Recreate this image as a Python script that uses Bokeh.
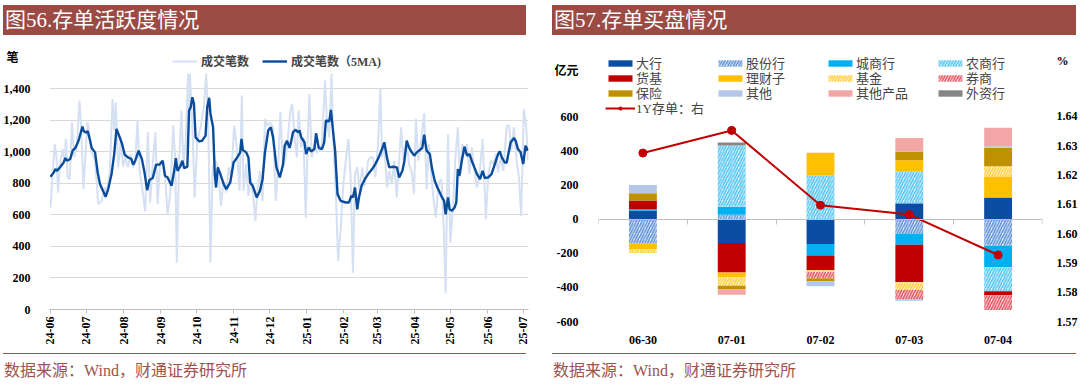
import math
import numpy as np
import pandas as pd
from bokeh.plotting import figure
from bokeh.layouts import row, column
from bokeh.models import (Range1d, LinearAxis, Legend, LegendItem, FixedTicker, Div,
                          NumeralTickFormatter, DatetimeTickFormatter, MonthsTicker)
from bokeh.embed import file_html
from bokeh.resources import INLINE

# ---------------- data: left chart (days since 2024-06-01) ----------------
raw_day = [0.0, 1.9, 3.6, 5.0, 6.3, 8.3, 10.2, 11.6, 12.9, 14.3, 16.0, 17.9, 19.8, 22.0, 24.2, 25.6,
           27.5, 28.9, 30.9, 32.5, 34.4, 37.2, 39.9, 42.7, 45.5, 46.8, 49.6, 51.8, 53.2, 54.5, 56.5,
           58.7, 60.6, 62.5, 64.7, 66.9, 68.9, 70.8, 72.7, 74.4, 76.3, 79.1, 81.3, 83.2, 85.4, 87.6,
           89.5, 91.5, 93.7, 95.6,
           97.8, 100.0, 102.5, 104.1, 105.5, 107.4, 109.4, 111.0, 112.9, 114.9, 115.7, 116.5, 118.5,
           120.4, 122.6, 125.3, 128.1, 130.0, 131.7, 133.6, 135.5, 137.7, 139.9, 142.4, 144.6, 146.8,
           148.8, 150.9, 153.4, 155.6, 157.9, 159.8, 161.2, 163.4, 165.3, 167.2, 169.4, 171.1, 173.0,
           174.9, 177.1, 179.1, 181.0, 183.2, 185.9, 188.1, 190.1, 192.0, 194.2,
           196.4, 198.3, 200.3, 201.9, 203.9, 205.8, 207.2, 209.4, 211.3, 213.2, 214.9, 216.2, 218.2,
           220.4, 222.3, 224.5, 226.7, 229.2, 230.8, 232.8, 234.7, 236.1, 238.3, 240.2, 242.4, 244.6,
           246.6, 248.8, 250.7, 252.6, 254.3, 256.2, 258.1, 260.3, 262.5, 265.3, 267.2, 269.4, 271.3,
           273.5, 275.5, 276.9, 278.8, 281.0, 282.9, 285.1, 287.0, 289.2, 291.2, 292.8, 294.8,
           297.5, 299.4, 301.7, 303.6, 305.2, 307.2, 309.9, 312.1, 314.1, 316.0, 318.2, 320.1, 321.8,
           324.3, 326.5, 328.4, 330.0, 332.0, 333.9, 336.1, 338.0, 340.2, 341.9, 343.8, 345.7, 347.9,
           349.9, 351.8, 354.0, 356.2, 358.1, 360.9, 363.6, 365.6, 367.8, 370.0, 371.9, 373.8, 376.0,
           378.2, 381.0, 382.9, 384.9, 387.0, 389.3, 391.2, 393.1, 395.3, 397.3, 398.8]
raw_val = [647, 880, 1050, 965, 742, 944, 1018, 944, 1082, 838, 827, 1188, 965, 1039, 1326, 1156,
           764, 944, 1188, 1114, 997, 944, 668, 689, 774, 732, 880, 1336, 1135, 1315, 902,
           1071, 906, 965, 902, 986, 902, 944, 1203, 880, 785, 622, 1124, 679, 923, 1124,
           668, 933, 944, 849,
           604, 732, 1167, 965, 297, 944, 1262, 923, 1061, 1496, 1250, 1496, 1156,
           711, 1071, 1156, 1283, 1496, 1199, 297, 902, 944, 902, 658, 817, 742,
           902, 838, 1167, 1029, 753, 1358, 753, 923, 721, 838, 711, 562, 774,
           880, 689, 1209, 1167, 1188, 1156, 689, 902, 1252, 902,
           965, 1092, 1262, 1305, 1082, 965, 1262, 1029, 1092, 583, 1092, 1368, 965,
           1050, 997, 1008, 1050, 1453, 1209, 1092, 1496, 1071, 732, 308, 520, 796,
           944, 1082, 838, 233, 859, 902, 753, 902, 785, 944, 965, 965, 838,
           1050, 1400, 965, 1039, 774, 880, 796, 944, 711, 944, 1156, 944,
           1071, 923, 870, 732, 1209, 944, 1092, 1245, 764, 1050, 838, 689, 583,
           806, 827, 520, 106, 1114, 424, 647, 944, 1156, 838, 1050, 986, 1050,
           859, 1029, 880, 774, 838, 1082, 573, 859, 944, 923, 986, 870, 965,
           880, 1167, 1167, 1008, 1156, 944, 838, 594, 1273, 1156, 944]

ma_day = [0.0, 2.8, 4.1, 5.5, 8.3, 11.0, 12.4, 13.8, 16.5, 18.5, 20.7, 23.4, 25.6, 26.7, 27.8, 29.5,
          31.1, 33.1, 34.4, 37.2, 39.4, 41.3, 44.1, 46.0, 48.2, 51.0, 53.2, 55.1, 57.0, 59.8, 62.0,
          64.7, 67.5, 69.1, 70.8, 73.6, 76.3, 78.5, 80.7, 82.6, 85.4, 88.2, 90.9, 93.7, 95.6,
          97.8, 101.1, 103.3, 104.7, 106.1, 108.3, 110.2, 111.6, 114.3, 115.7, 117.1, 118.5, 119.8,
          121.2, 124.0, 126.7, 129.5, 130.9, 132.5, 133.6, 135.8, 137.2, 138.3, 139.7, 141.9, 144.6,
          146.8, 150.1, 152.9, 155.6, 158.4, 159.5, 160.6, 163.4, 165.3, 166.7, 168.9, 172.2, 174.9,
          177.1, 179.1, 181.8, 184.0, 185.9, 188.7, 191.5, 194.2,
          195.6, 197.5, 199.7, 201.1, 202.5, 204.7, 206.6, 208.0, 209.4, 212.1, 213.5, 215.7, 217.6,
          220.4, 221.8, 224.0, 226.7, 228.6, 230.0, 232.8, 234.2, 235.5, 237.7, 239.7, 242.4, 246.6,
          249.3, 251.2, 252.6, 254.3, 256.2, 257.6, 259.8, 262.5, 265.3, 268.6, 271.3, 274.1, 276.9,
          278.8, 281.0, 282.9, 286.5, 289.3, 291.2, 293.9,
          295.6, 297.5, 299.4, 301.7, 303.9, 305.8, 308.5, 310.5, 312.1, 314.1, 316.8, 318.7, 320.9,
          323.1, 325.1, 327.0, 328.7, 330.0, 332.0, 333.3, 335.3, 337.5, 338.9, 340.2, 341.6, 343.5,
          345.7, 347.9, 349.9, 351.8, 354.0, 356.2, 358.7, 360.9, 362.8, 365.6, 368.3, 371.1, 373.8,
          375.2, 376.9, 379.3, 381.0, 382.1, 384.3, 387.1, 388.4, 390.4, 392.6, 394.8, 396.7, 398.6]
ma_val = [842, 870, 891, 880, 906, 933, 961, 944, 955, 1008, 1025, 1071, 1131, 1160, 1131, 1124,
          1131, 1071, 1025, 997, 870, 796, 749, 715, 764, 859, 986, 1146, 1109, 1050, 982,
          965, 955, 919, 944, 1008, 955, 870, 757, 821, 834, 919, 919, 944, 849,
          838, 785, 880, 961, 880, 906, 944, 897, 906, 1262, 1283, 1347, 1305,
          1092, 1067, 1071, 1103, 1283, 1343, 1241, 1156, 859, 774, 902, 859, 796,
          764, 806, 933, 961, 997, 1082, 1012, 997, 965, 806, 785, 711, 753,
          827, 997, 1135, 1156, 1092, 902, 838, 920,
          1039, 1071, 1025, 1071, 1124, 1141, 1124, 1135, 1092, 1061, 986, 1029, 1003,
          1018, 1118, 1025, 1018, 1061, 1199, 1194, 1266, 1167, 1008, 732, 689, 679,
          679, 721, 711, 774, 636, 711, 785, 827, 859, 891, 923, 965, 1018,
          1061, 965, 902, 906, 902, 838, 880,
          944, 1071, 1029, 997, 976, 997, 1012, 1025, 1109, 1008, 986, 891, 817,
          774, 742, 711, 689, 604, 711, 636, 626, 647, 679, 891, 849, 944,
          1033, 976, 986, 944, 902, 859, 827, 880, 834, 838, 859, 923, 986,
          1003, 965, 933, 933, 976, 1061, 1088, 1071, 1018, 997, 923, 1039, 1008]

left_yticks = [0, 200, 400, 600, 800, 1000, 1200, 1400]

# ---------------- data: right chart ----------------
dates_r = ["06-30", "07-01", "07-02", "07-03", "07-04"]
series_names = ["大行", "股份行", "城商行", "农商行", "货基", "理财子", "基金", "券商",
                "保险", "其他", "其他产品", "外资行"]
v_dahang = [49, -141, -146, 93, 126]
v_gufen = [-143, 25, 0, -84, -156]
v_chengshang = [8, 47, -68, -66, -127]
v_nongshang = [0, 358, 256, 187, -140]
v_huoji = [51, -172, -84, -220, -25]
v_licai = [-33, -29, 132, 65, 124]
v_jijin = [-23, -49, -10, -45, 59]
v_quanshang = [0, 0, -38, -53, -84]
v_baoxian = [43, -20, -18, 49, 108]
v_qita = [49, 0, -29, -10, 10]
v_qitachanpin = [0, -33, 0, 80, 108]
v_waizi = [0, 18, 0, 0, 0]
rate_1y = [1.6275, 1.6352, 1.6097, 1.6065, 1.5927]
right_yticks = [-600, -400, -200, 0, 200, 400, 600]
rate_ticks = [1.57, 1.58, 1.59, 1.60, 1.61, 1.62, 1.63, 1.64]

series_vals = [v_dahang, v_gufen, v_chengshang, v_nongshang, v_huoji, v_licai, v_jijin,
               v_quanshang, v_baoxian, v_qita, v_qitachanpin, v_waizi]
series_color = ["#0B4DA2", "#5C8FD6", "#00B0F0", "#4FC3F2", "#C00000", "#FFC000", "#FFCC33",
                "#E2505C", "#BF9000", "#B4C7E7", "#F2A6A6", "#858585"]
series_hatch = [False, True, False, True, False, False, True, True, False, False, False, False]

# ---------------- styles ----------------
BAR = "#9B4A44"
FOOT = "#A0524C"
MIX = "Liberation Serif, Noto Sans CJK SC"
LIGHT = "#D5E0F2"
DARK = "#0A4C9C"
GRID = "#D9D9D9"


def title_div(w, left, bar_w, text):
    html = ('<div style="margin:5px 0 0 %dpx;width:%dpx;height:30px;background:%s;color:white;'
            'font-family:Liberation Serif, Noto Sans CJK SC;font-size:21px;line-height:30px;'
            'padding-left:2px;box-sizing:border-box;white-space:nowrap;overflow:hidden">%s</div>'
            % (left, bar_w, BAR, text))
    return Div(text=html, width=w, height=35, margin=0)


def footer_div(w, left, bar_w):
    html = ('<div style="margin:3px 0 0 %dpx;width:%dpx;border-top:1.5px solid %s;'
            'color:%s;font-family:Liberation Serif, Noto Sans CJK SC;font-size:16px;'
            'line-height:19px;padding-top:7px;padding-left:1px;box-sizing:border-box;'
            'white-space:nowrap">数据来源：Wind，财通证券研究所</div>' % (left, bar_w, FOOT, FOOT))
    return Div(text=html, width=w, height=35, margin=0)


# ---------------- left chart ----------------
origin = pd.Timestamp("2024-06-01")
raw_dates = origin + pd.to_timedelta(raw_day, unit="D")
ma_dates = origin + pd.to_timedelta(ma_day, unit="D")

p1 = figure(width=551, height=315, x_axis_type="datetime",
            x_range=Range1d(origin - pd.Timedelta(hours=20), origin + pd.Timedelta(days=399.2)),
            y_range=Range1d(0, 1675), toolbar_location=None, output_backend="svg",
            min_border_left=44, min_border_right=23, min_border_top=10, min_border_bottom=41)
p1.outline_line_color = None
p1.background_fill_color = "white"
p1.border_fill_color = "white"
p1.xgrid.visible = False
p1.ygrid.ticker = FixedTicker(ticks=left_yticks)
p1.ygrid.grid_line_color = GRID
p1.ygrid.grid_line_width = 1

unit_tick_left = 1595
p1.yaxis.ticker = FixedTicker(ticks=left_yticks + [unit_tick_left])
p1.yaxis.formatter = NumeralTickFormatter(format="0,0")
p1.yaxis.major_label_overrides = {unit_tick_left: "笔\u2003"}
p1.yaxis.axis_line_color = None
p1.yaxis.major_tick_line_color = None
p1.yaxis.minor_tick_line_color = None
p1.yaxis.major_label_standoff = 13
p1.yaxis.major_label_text_font = MIX
p1.yaxis.major_label_text_font_style = "bold"
p1.yaxis.major_label_text_font_size = "12px"
p1.yaxis.major_label_text_color = "black"

p1.xaxis.ticker = MonthsTicker(months=list(range(12)))
p1.xaxis.formatter = DatetimeTickFormatter(months="%y-%m", days="%y-%m", years="%y-%m")
p1.xaxis.major_label_orientation = math.pi / 2
p1.xaxis.axis_line_color = "#BFBFBF"
p1.xaxis.major_tick_line_color = "#BFBFBF"
p1.xaxis.major_tick_out = 4
p1.xaxis.major_tick_in = 0
p1.xaxis.minor_tick_line_color = None
p1.xaxis.major_label_standoff = 3
p1.xaxis.major_label_text_font = "Liberation Serif"
p1.xaxis.major_label_text_font_style = "bold"
p1.xaxis.major_label_text_font_size = "12px"
p1.xaxis.major_label_text_color = "black"

r_raw = p1.line(raw_dates, raw_val, line_color=LIGHT, line_width=2)
r_ma = p1.line(ma_dates, ma_val, line_color=DARK, line_width=2.4)

leg1 = Legend(items=[LegendItem(label="成交笔数", renderers=[r_raw]),
                     LegendItem(label="成交笔数（5MA)", renderers=[r_ma])],
              orientation="horizontal", location=(123, 239), glyph_width=25, glyph_height=14,
              label_height=14, label_standoff=4, spacing=13, padding=0, margin=0,
              border_line_color=None, background_fill_alpha=0,
              label_text_font=MIX, label_text_font_style="bold", label_text_font_size="12px")
p1.add_layout(leg1)

# ---------------- right chart ----------------
xpos = np.arange(len(dates_r)) + 0.5
p2 = figure(width=529, height=315, x_range=Range1d(0, len(dates_r)), y_range=Range1d(-600, 987),
            toolbar_location=None, output_backend="svg",
            min_border_left=44, min_border_right=38, min_border_top=15, min_border_bottom=29)
p2.extra_y_ranges = {"rate": Range1d(1.57, 1.6625)}
p2.outline_line_color = None
p2.grid.visible = False
p2.background_fill_color = "white"
p2.border_fill_color = "white"

unit_tick_r_left = 866
unit_tick_r_right = 1.6588
p2.yaxis[0].ticker = FixedTicker(ticks=right_yticks + [unit_tick_r_left])
p2.yaxis[0].formatter = NumeralTickFormatter(format="0")
p2.yaxis[0].major_label_overrides = {unit_tick_r_left: "亿元"}
ax_r = LinearAxis(y_range_name="rate", ticker=FixedTicker(ticks=rate_ticks + [unit_tick_r_right]),
                  formatter=NumeralTickFormatter(format="0.00"),
                  major_label_overrides={unit_tick_r_right: "%"})
p2.add_layout(ax_r, "right")
for ax in [p2.yaxis[0], ax_r]:
    ax.axis_line_color = None
    ax.major_tick_line_color = None
    ax.minor_tick_line_color = None
    ax.major_label_text_font = MIX
    ax.major_label_text_font_style = "bold"
    ax.major_label_text_font_size = "12px"
    ax.major_label_text_color = "black"
p2.yaxis[0].major_label_standoff = 14
ax_r.major_label_standoff = 8

xa = p2.xaxis[0]
xa.ticker = FixedTicker(ticks=list(xpos))
xa.major_label_overrides = {float(x): d for x, d in zip(xpos, dates_r)}
xa.axis_line_color = None
xa.major_tick_line_color = None
xa.minor_tick_line_color = None
xa.major_label_standoff = 8
xa.major_label_text_font = "Liberation Serif"
xa.major_label_text_font_style = "bold"
xa.major_label_text_font_size = "12px"
xa.major_label_text_color = "black"

ax0 = LinearAxis(fixed_location=0, ticker=FixedTicker(ticks=list(range(len(dates_r) + 1))),
                 axis_line_color="#BFBFBF", major_tick_line_color="#BFBFBF",
                 major_tick_out=5, major_tick_in=0, minor_tick_line_color=None,
                 major_label_text_font_size="0px", major_label_text_alpha=0)
p2.add_layout(ax0, "below")

pos_cum = np.zeros(len(dates_r))
neg_cum = np.zeros(len(dates_r))
bar_renderers = []
for name, vals, col, hatch in zip(series_names, series_vals, series_color, series_hatch):
    v = np.array(vals, dtype=float)
    bottom = np.where(v >= 0, pos_cum, neg_cum)
    top = bottom + v
    pos_cum = np.where(v >= 0, pos_cum + v, pos_cum)
    neg_cum = np.where(v < 0, neg_cum + v, neg_cum)
    kw = dict(x=xpos, bottom=bottom, top=top, width=0.314, line_color=None)
    if hatch:
        r = p2.vbar(fill_color="white", hatch_pattern="/", hatch_color=col, hatch_weight=1.7,
                    hatch_scale=5.5, **kw)
    else:
        r = p2.vbar(fill_color=col, **kw)
    bar_renderers.append(r)

r_line = p2.line(xpos, rate_1y, y_range_name="rate", line_color="#C00000", line_width=2)
r_pts = p2.scatter(xpos, rate_1y, y_range_name="rate", size=8, fill_color="#C00000",
                   line_color="#C00000")

leg_kw = dict(orientation="horizontal", glyph_width=30, glyph_height=8, label_height=14,
              label_width=72, label_standoff=1, spacing=7, padding=0, margin=0,
              border_line_color=None, background_fill_alpha=0,
              label_text_font=MIX, label_text_font_size="13px")
row_vy = [249, 234, 219, 204]
for ri in range(3):
    items = [LegendItem(label=series_names[k], renderers=[bar_renderers[k]])
             for k in range(ri * 4, ri * 4 + 4)]
    p2.add_layout(Legend(items=items, location=(7, row_vy[ri]), **leg_kw))
p2.add_layout(Legend(items=[LegendItem(label="1Y存单：右", renderers=[r_line, r_pts])],
                     location=(7, row_vy[3]), **leg_kw))

# ---------------- layout ----------------
left = column(title_div(551, 3, 523, "图56.存单活跃度情况"), p1, footer_div(551, 3, 523), spacing=0)
right = column(title_div(529, 1, 524, "图57.存单买盘情况"), p2, footer_div(529, 1, 524), spacing=0)
layout = row(left, right, spacing=0)

open("out.html", "w").write(file_html(layout, INLINE))
